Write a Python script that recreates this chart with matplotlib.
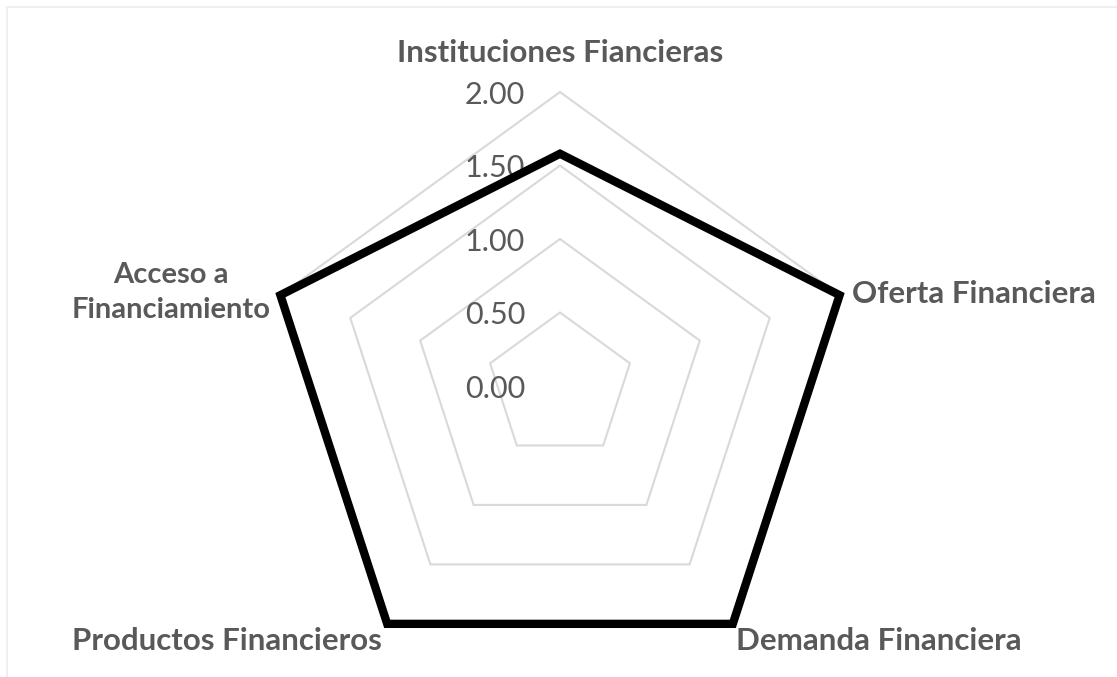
import numpy as np
import matplotlib
matplotlib.use("Agg")
import matplotlib.pyplot as plt
from matplotlib.patches import Rectangle

plt.rcParams['font.family'] = ['Lato', 'DejaVu Sans']

categories = ["Instituciones Fiancieras", "Oferta Financiera", "Demanda Financiera",
              "Productos Financieros", "Acceso a\nFinanciamiento"]
values = [1.58, 2.0, 2.0, 2.0, 2.0]
levels = [0.5, 1.0, 1.5, 2.0]
tick_labels = ["0.00", "0.50", "1.00", "1.50", "2.00"]
tick_values = [0.0, 0.5, 1.0, 1.5, 2.0]

W, H = 1117, 677
cx, cy = 560, 386          # centre in pixels
ppu = 147                  # pixels per unit

fig = plt.figure(figsize=(W / 100, H / 100), dpi=100)
ax = fig.add_axes([0, 0, 1, 1])
ax.set_xlim(-cx / ppu, (W - cx) / ppu)
ax.set_ylim(-(H - cy) / ppu, cy / ppu)
ax.axis('off')

n = len(categories)
ang = np.arange(n) * 2 * np.pi / n
sx, sy = np.sin(ang), np.cos(ang)

# chart border (top / left edges visible)
ax.add_patch(Rectangle((7, -20), W + 20, H - 7 + 20, transform=None, fill=False,
                       edgecolor='#EFEFEF', linewidth=1.5))

for lv in levels:
    ax.fill(lv * sx, lv * sy, facecolor='none', edgecolor='#D9D9D9', lw=1.5, zorder=1)

v = np.array(values)
ax.fill(v * sx, v * sy, facecolor='none', edgecolor='black', lw=6,
        joinstyle='miter', zorder=3)

for t, lab in zip(tick_values, tick_labels):
    ax.annotate(lab, (0, t), xytext=(-25, -2), textcoords='offset points',
                ha='right', va='center', fontsize=22, color='#595959', zorder=2)

lab_kw = dict(fontweight='bold', color='#595959', textcoords='offset points')
r = 2.0
ax.annotate(categories[0], (r * sx[0], r * sy[0]), xytext=(0, 28), ha='center', va='center',
            fontsize=22.5, **lab_kw)
ax.annotate(categories[1], (r * sx[1], r * sy[1]), xytext=(9, 1), ha='left', va='center',
            fontsize=22.5, **lab_kw)
ax.annotate(categories[2], (r * sx[2], r * sy[2]), xytext=(2, -12), ha='left', va='center',
            fontsize=22.5, **lab_kw)
ax.annotate(categories[3], (r * sx[3], r * sy[3]), xytext=(-3.5, -12), ha='right', va='center',
            fontsize=22.5, **lab_kw)
ax.annotate(categories[4], (r * sx[4], r * sy[4]), xytext=(-7, 2), ha='right', va='center',
            multialignment='center', linespacing=1.45, fontsize=21, **lab_kw)

fig.savefig("out.png", dpi=100)
